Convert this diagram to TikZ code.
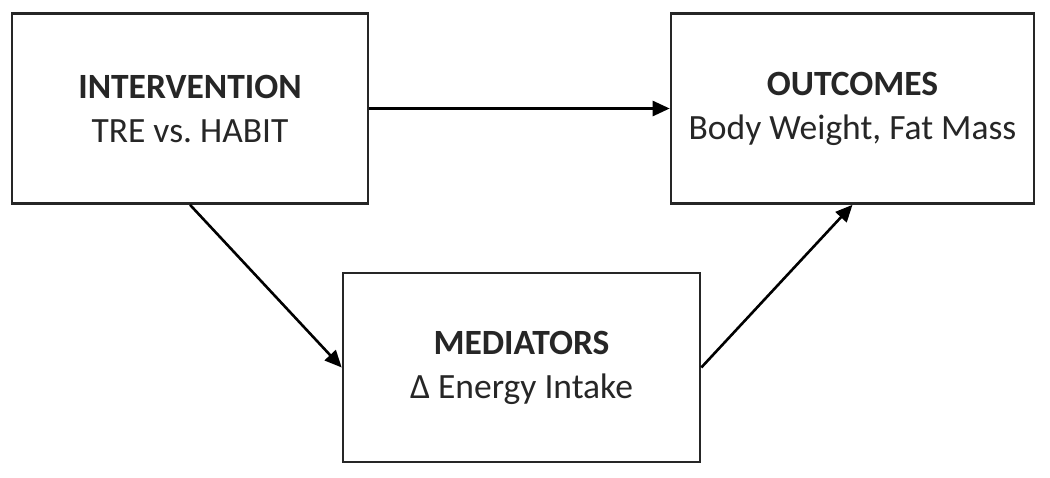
\documentclass[tikz,border=0pt]{standalone}
\usepackage{fontspec}
\setmainfont{Carlito}
\usetikzlibrary{arrows.meta}
\begin{document}
\begin{tikzpicture}[x=1pt,y=-1pt,
  box/.style={draw=black!85, line width=2.6pt, fill=white, inner sep=0pt, align=center,
    font=\fontsize{35.5}{44}\selectfont, text=black!85},
  arr/.style={line width=2.6pt, draw=black, -{Triangle[length=17pt,width=15pt]}}]
\useasboundingbox (0,0) rectangle (1050,477);
\node[box, minimum width=356pt, minimum height=190pt] (int) at (190,108.5)
  {\textbf{INTERVENTION}\\TRE vs.\ HABIT};
\node[box, minimum width=363pt, minimum height=190pt] (out) at (852.5,108.5)
  {\textbf{OUTCOMES}\\Body Weight, Fat Mass};
\node[box, minimum width=357pt, minimum height=189pt] (med) at (521.5,367.5)
  {\textbf{MEDIATORS}\\Δ Energy Intake};
\draw[arr] (int.east) -- (out.west);
\draw[arr] (int.south) -- (med.west);
\draw[arr] (med.east) -- (out.south);
\end{tikzpicture}
\end{document}
